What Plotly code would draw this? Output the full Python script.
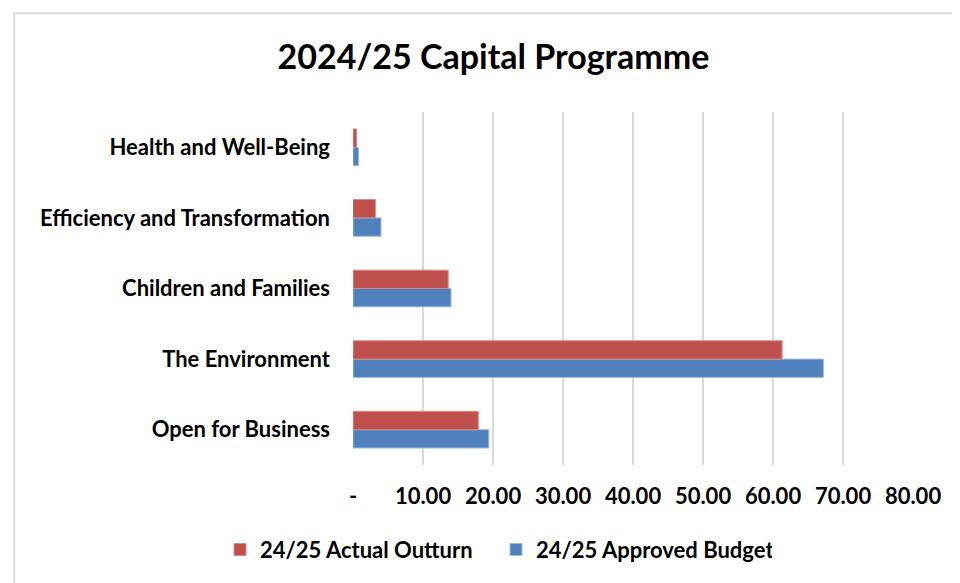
import plotly.graph_objects as go

# ---------- DATA ----------
CATEGORIES = [
    "Open for Business",
    "The Environment",
    "Children and Families",
    "Efficiency and Transformation",
    "Health and Well-Being",
]
ACTUAL_OUTTURN = [17.9, 61.3, 13.6, 3.2, 0.5]
APPROVED_BUDGET = [19.4, 67.2, 14.0, 4.0, 0.8]
X_TICKS = [0, 10, 20, 30, 40, 50, 60, 70, 80]
X_TICK_LABELS = ["-", "10.00", "20.00", "30.00", "40.00", "50.00", "60.00", "70.00", "80.00"]

RED = "#C0504D"
BLUE = "#4F81BD"
FONT = "Lato"

# page has an 8px body margin, so the figure is drawn 8px smaller
W, H = 952, 575

fig = go.Figure()
# blue first so it sits below red inside each group
fig.add_trace(go.Bar(
    y=CATEGORIES, x=APPROVED_BUDGET, name="24/25 Approved Budget",
    orientation="h", marker=dict(color=BLUE, line=dict(color="#9DB9DE", width=1)),
))
fig.add_trace(go.Bar(
    y=CATEGORIES, x=ACTUAL_OUTTURN, name="24/25 Actual Outturn",
    orientation="h", marker=dict(color=RED, line=dict(color="#D88A88", width=1)),
))

fig.update_layout(
    width=W, height=H,
    template="plotly_white",
    paper_bgcolor="white", plot_bgcolor="white",
    barmode="group", bargap=0.48, bargroupgap=0,
    margin=dict(l=345, r=47, t=104, b=118, autoexpand=False),
    font=dict(family=FONT, color="black", size=22, weight="bold"),
    title=dict(
        text="2024/25 Capital Programme",
        x=0.51, xanchor="center", y=0.915, yanchor="middle",
        font=dict(family=FONT, size=34, color="black", weight="bold"),
    ),
    legend=dict(
        orientation="h", x=-0.2375, xanchor="left",
        y=-0.24, yanchor="middle", entrywidth=231,
        traceorder="reversed", font=dict(size=22, weight="bold"),
    ),
    xaxis=dict(
        range=[0, 80], tickvals=X_TICKS, ticktext=X_TICK_LABELS,
        showgrid=True, gridcolor="#D9D9D9", gridwidth=2, automargin=False,
        zeroline=False, showline=False, ticks="", ticklabelstandoff=16,
    ),
    yaxis=dict(
        showgrid=False, zeroline=False, showline=False, ticks="", automargin=False,
        ticklabelstandoff=22,
    ),
    showlegend=True,
    shapes=[dict(
        type="rect", xref="paper", yref="paper",
        x0=-0.605, x1=1.2, y0=-0.5, y1=1.28,
        line=dict(color="#D9D9D9", width=2), fillcolor="rgba(0,0,0,0)", layer="below",
    )],
)

fig.write_html("out.html")
